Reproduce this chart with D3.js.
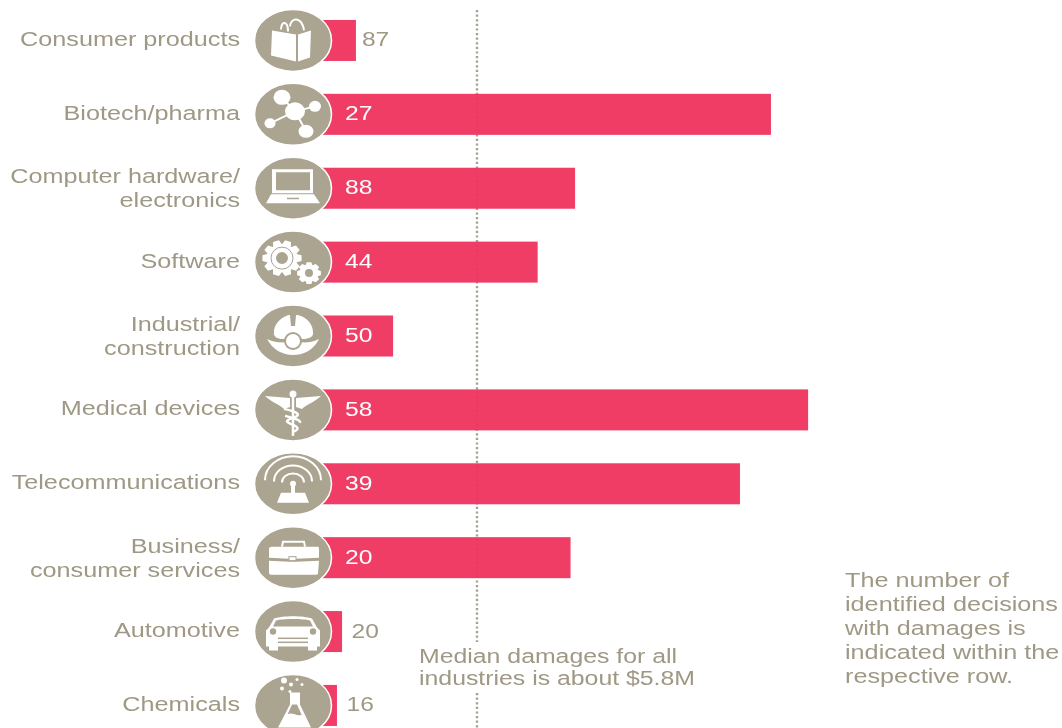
<!DOCTYPE html>
<html lang="en">
<head>
<meta charset="UTF-8">
<title>Median damages by industry</title>
<script src="https://cdn.jsdelivr.net/npm/d3@7"></script>
<style>
  html, body { margin: 0; padding: 0; background: #fff; }
  svg { display: block; filter: blur(0.6px); }
  text { font-family: "Liberation Sans", Arial, sans-serif; }
</style>
</head>
<body>
<script>
// categories, two lines where the label wraps
const industries = ['Consumer products', 'Biotech/pharma', 'Computer hardware/|electronics', 'Software',
    'Industrial/|construction', 'Medical devices', 'Telecommunications', 'Business/|consumer services',
    'Automotive', 'Chemicals']
// median damages, $M
const damages = [1.27, 16.8, 9.47, 8.07, 2.66, 18.19, 15.64, 9.3, 0.75, 0.56]
const decisions = [87, 27, 88, 44, 50, 58, 39, 20, 20, 16]
const iconNames = ['book', 'molecule', 'laptop', 'gears', 'helmet', 'caduceus', 'tower', 'briefcase', 'car', 'flask']
const medianDamages = 5.8
const medianNote = ['Median damages for all', 'industries is about $5.8M']
const countNote = ['The number of', 'identified decisions', 'with damages is', 'indicated within the', 'respective row.']

const [width, height] = [1062, 728]
const tan = '#aaa491', labelColor = '#9e9884', pink = '#ef3560'
const stretch = 1.23 // the source picture is stretched sideways, text too

const x = d3.scaleLinear().domain([0, medianDamages]).range([322, 477])
const y = d3.scaleBand().domain(industries).range([3.7, 742.2]).paddingInner(0.445).paddingOuter(0.22)
const rowY = d => y(d) + y.bandwidth() / 2

const svg = d3.select('body').append('svg').attr('width', width).attr('height', height)

const putText = (g, str, px, py, size, anchor, color) => g.append('text')
    .attr('transform', `translate(${px},${py}) scale(${stretch},1)`)
    .attr('text-anchor', anchor)
    .attr('font-size', size)
    .attr('fill', color)
    .text(str)

// median line, broken around its note; sits behind the bars and shows faintly through
const dots = d3.path()
dots.moveTo(x(medianDamages), 10); dots.lineTo(x(medianDamages), 642)
dots.moveTo(x(medianDamages), 693); dots.lineTo(x(medianDamages), height)
svg.append('path').attr('d', dots.toString()).attr('fill', 'none')
    .attr('stroke', '#a5a192').attr('stroke-width', 2.4).attr('stroke-dasharray', '2.2 2.4')

const bars = svg.append('g')
bars.selectAll('rect').data(industries).enter().append('rect')
    .attr('x', x(0))
    .attr('y', d => y(d))
    .attr('width', (d, i) => x(damages[i]) - x(0))
    .attr('height', y.bandwidth())
    .attr('fill', pink)
    .attr('fill-opacity', 0.96)

// icon drawings, px from the centre of the disc
const gear = (cx, cy, r, teeth, hole) => {
    let p = ''
    for (let i = 0; i < teeth; i++) {
        const a = i / teeth * 2 * Math.PI, s = Math.PI / teeth
        const pts = [[r * .78, a - s * .95], [r, a - s * .5], [r, a + s * .5], [r * .78, a + s * .95]]
        pts.forEach((q, j) => {
            p += (i === 0 && j === 0 ? 'M' : 'L') + (cx + q[0] * 1.1 * Math.cos(q[1])) + ',' + (cy + q[0] * Math.sin(q[1]))
        })
    }
    return p + 'Z' + `M${cx - hole},${cy}a${hole},${hole} 0 1,0 ${hole * 2},0a${hole},${hole} 0 1,0 ${-hole * 2},0Z`
}
const icons = {
    book: g => {
        g.append('path').attr('fill', '#fff').attr('d', 'M-21,-10L3,-6L3,21L-22,15ZM5,-6L18,-10L17,17L5,21Z')
        g.append('path').attr('fill', 'none').attr('stroke', '#fff').attr('stroke-width', 2)
            .attr('d', 'M-12,-11C-12,-20 -5,-20 -5,-9M-3,-14C-2,-24 9,-24 11,-10')
    },
    molecule: g => {
        g.append('path').attr('fill', 'none').attr('stroke', '#fff').attr('stroke-width', 2)
            .attr('d', 'M-11,-17L2,-3L22,-8M2,-3L13,17M2,-3L-23,9')
        const balls = [[2, -3, 10, 9], [-11, -17, 8.5, 7.5], [22, -8, 6, 5.5], [13, 17, 7.5, 6.5], [-23, 9, 5.5, 5]]
        balls.forEach(b => g.append('ellipse').attr('cx', b[0]).attr('cy', b[1]).attr('rx', b[2]).attr('ry', b[3]).attr('fill', '#fff'))
    },
    laptop: g => {
        g.append('path').attr('fill', '#fff').attr('fill-rule', 'evenodd')
            .attr('d', 'M-21,-19L20,-19L20,5L-21,5ZM-17,-16L17,-16L17,2L-17,2Z')
        g.append('path').attr('fill', '#fff').attr('d', 'M-22,6L21,6L27,15L-27,15Z')
        g.append('rect').attr('x', -6).attr('y', 9.5).attr('width', 12).attr('height', 1.5).attr('fill', tan)
    },
    gears: g => {
        g.append('path').attr('fill', '#fff').attr('fill-rule', 'evenodd').attr('d', gear(-11, -4, 18, 10, 6))
        g.append('circle').attr('cx', -11).attr('cy', -4).attr('r', 11).attr('fill', 'none').attr('stroke', tan).attr('stroke-width', 1)
        g.append('path').attr('fill', '#fff').attr('fill-rule', 'evenodd').attr('d', gear(16, 11, 11, 8, 4))
    },
    helmet: g => {
        g.append('path').attr('fill', '#fff').attr('d', 'M-19,-4C-19,-14 -8,-21 -3,-21L-2,-10L2,-10L3,-21C10,-21 20,-14 20,-4C21,2 14,3 10,3L-10,3C-14,3 -20,2 -19,-4Z')
        g.append('path').attr('fill', '#fff').attr('d', 'M-26,3C-15,8 -10,6 0,6C10,6 16,8 26,3C20,15 10,19 0,19C-10,19 -20,14 -26,3Z')
        g.append('circle').attr('cy', 5).attr('r', 9).attr('fill', tan)
        g.append('circle').attr('cy', 5).attr('r', 7).attr('fill', '#fff')
    },
    caduceus: g => {
        g.append('path').attr('fill', '#fff').attr('d', 'M-3,-12L-28,-14C-22,-8 -14,-6 -9,-1L-3,-3ZM3,-12L28,-14C22,-8 14,-6 9,-1L3,-3Z')
        g.append('circle').attr('cy', -16).attr('r', 3.5).attr('fill', '#fff')
        g.append('path').attr('fill', 'none').attr('stroke', '#fff').attr('stroke-width', 2.5).attr('d', 'M0,-14L0,26')
        g.append('path').attr('fill', 'none').attr('stroke', '#fff').attr('stroke-width', 2.5)
            .attr('d', 'M-9,-1C5,2 9,5 0,8C-9,11 -7,12 0,15C7,18 5,20 0,22M-8,6C-1,8 8,10 7,13')
    },
    tower: g => {
        const arcs = g.append('g').attr('fill', 'none').attr('stroke', '#fff').attr('stroke-width', 2)
        ;[[28, 24], [19, 16], [11, 9]].forEach(r => arcs.append('path')
            .attr('d', `M${-r[0]},${-r[1] * .15}A${r[0]},${r[1]} 0 0,1 ${r[0]},${-r[1] * .15}`))
        g.append('circle').attr('r', 3).attr('fill', '#fff')
        g.append('path').attr('fill', '#fff').attr('d', 'M-2,0L2,0L2,9L12,9L16,19L-16,19L-12,9L-2,9Z')
    },
    briefcase: g => {
        g.append('path').attr('fill', 'none').attr('stroke', '#fff').attr('stroke-width', 2)
            .attr('d', 'M-11,-11L-10,-16L11,-16L12,-11')
        g.append('path').attr('fill', '#fff')
            .attr('d', 'M-21,-11L25,-11Q26,-11 26,-9L26,0L3,1L-4,1L-24,0L-24,-9Q-24,-11 -21,-11Z')
        g.append('path').attr('fill', '#fff')
            .attr('d', 'M-24,3L-4,4L3,4L26,3L25,16Q25,17 22,17L-21,17Q-24,17 -24,15Z')
        g.append('rect').attr('x', -4).attr('y', -1).attr('width', 7).attr('height', 4).attr('fill', '#fff').attr('stroke', tan).attr('stroke-width', 1)
    },
    car: g => {
        g.append('path').attr('fill', '#fff')
            .attr('d', 'M-19,-13C-10,-16 10,-16 19,-13L24,-4L27,-1L27,15L24,15L24,19L15,19L15,15L-15,15L-15,19L-24,19L-24,15L-27,15L-27,-1L-24,-4Z')
        g.append('path').attr('fill', tan).attr('d', 'M-17,-11C-10,-13 10,-13 17,-11L20,-5L-20,-5Z')
        g.append('rect').attr('x', -15).attr('y', 6).attr('width', 30).attr('height', 1.5).attr('fill', tan)
        g.append('rect').attr('x', -15).attr('y', 10).attr('width', 30).attr('height', 1.5).attr('fill', tan)
        g.append('circle').attr('cx', -20).attr('cy', 0).attr('r', 3.2).attr('fill', tan)
        g.append('circle').attr('cx', 20).attr('cy', 0).attr('r', 3.2).attr('fill', tan)
    },
    flask: g => {
        g.append('path').attr('fill', '#fff').attr('fill-rule', 'evenodd')
            .attr('d', 'M-3,-13L7,-13L7,-1L18,22L-15,22L-3,-1ZM-1,-1L-10,19L13,19L4,-1Z')
        g.append('path').attr('fill', '#fff').attr('d', 'M-6,9C0,6 4,12 9,9L14,20L-11,20Z')
        ;[[-9, -25, 3], [-2, -21, 2], [-11, -17, 2], [4, -26, 1.5], [9, -21, 1.5], [-3, -14, 1.5]].forEach(b =>
            g.append('circle').attr('cx', b[0]).attr('cy', b[1]).attr('r', b[2]).attr('fill', '#fff'))
    }
}

const discs = svg.append('g').selectAll('g').data(industries).enter().append('g')
    .attr('transform', d => `translate(293,${rowY(d)})`)
discs.append('ellipse').attr('rx', 38.5).attr('ry', 31).attr('fill', tan).attr('stroke', '#fff').attr('stroke-width', 1.5)
discs.each(function (d, i) { icons[iconNames[i]](d3.select(this)) })

// category labels, right aligned against the discs
const labels = svg.append('g')
industries.forEach(d => {
    const lines = d.split('|')
    lines.forEach((t, j) => {
        const py = lines.length === 1 ? rowY(d) + 5.5 : rowY(d) + 7 + (j === 0 ? -12 : 12)
        putText(labels, t, 240, py, 20.5, 'end', labelColor)
    })
})

// decision counts: inside the bar when it is long enough
const counts = svg.append('g')
industries.forEach((d, i) => {
    const end = x(damages[i])
    const inside = end > 385
    const px = inside ? 345 : end + (end > 350 ? 6 : 9.5)
    putText(counts, decisions[i], px, rowY(d) + 6, 20, 'start', inside ? '#fff' : labelColor)
})

const notes = svg.append('g')
medianNote.forEach((t, i) => putText(notes, t, 419, 662.5 + i * 22, 20.2, 'start', labelColor))
countNote.forEach((t, i) => putText(notes, t, 845, 586.5 + i * 24.2, 20.5, 'start', labelColor))
</script>
</body>
</html>
